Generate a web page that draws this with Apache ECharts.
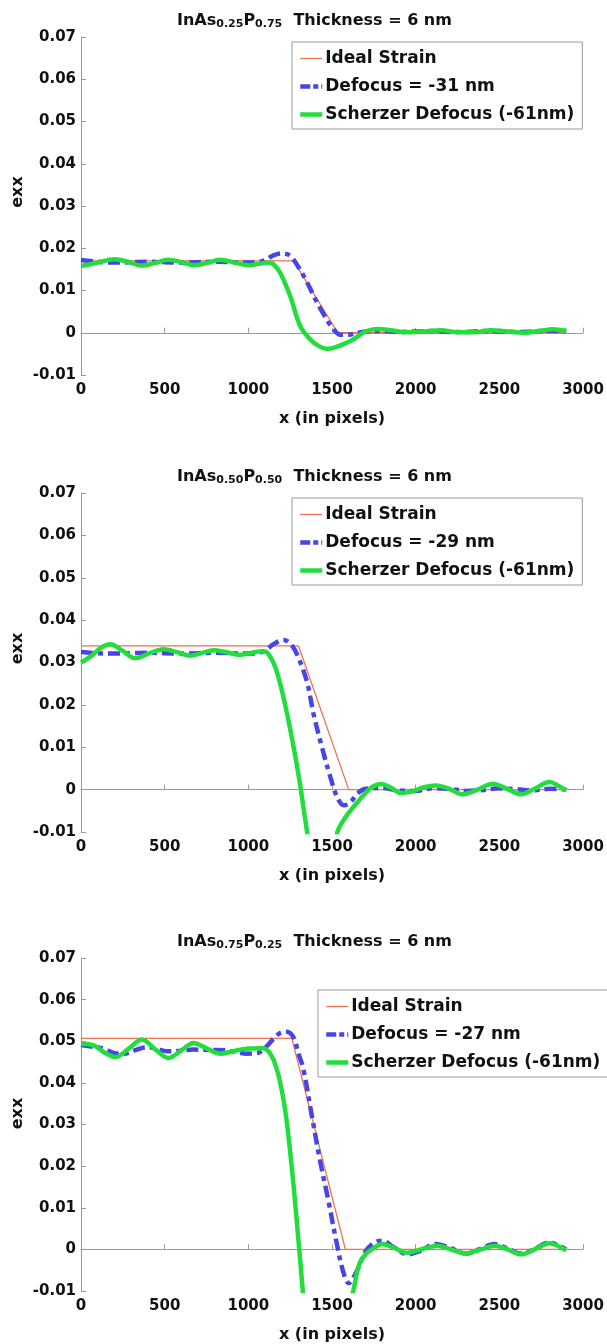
<!DOCTYPE html>
<html>
<head>
<meta charset="utf-8">
<script src="https://cdn.jsdelivr.net/npm/echarts@6/dist/echarts.min.js"></script>
<style>html,body{margin:0;padding:0;background:#fff;}#c{width:607px;height:1344px;}</style>
</head>
<body>
<div id="c"></div>
<script>
// ---- data ----
const xTicks = [0, 500, 1000, 1500, 2000, 2500, 3000];
const yTicks = [-0.01, 0, 0.01, 0.02, 0.03, 0.04, 0.05, 0.06, 0.07];

const titles = [
  ['0.25', '0.75'],
  ['0.50', '0.50'],
  ['0.75', '0.25']
];
const defocusNames = ['Defocus = -31 nm', 'Defocus = -29 nm', 'Defocus = -27 nm'];

const ideal1 = [[0,0.017],[1270,0.017],[1535,0],[2900,0]];
const defocus1 = [[0,0.0172],[100,0.0168],[200,0.0166],[300,0.0167],[400,0.0168],[500,0.0167],[600,0.0166],[700,0.0167],[800,0.0168],[900,0.0167],[1000,0.0166],[1050,0.0167],[1100,0.0172],[1150,0.0183],[1200,0.0188],[1250,0.0182],[1300,0.0155],[1350,0.012],[1400,0.008],[1450,0.0044],[1500,0.0013],[1550,-0.0005],[1600,-0.0005],[1650,0.0000],[1700,0.0003],[1800,0.0004],[1900,0.0002],[2000,0.0003],[2100,0.0004],[2200,0.0002],[2300,0.0002],[2400,0.0004],[2500,0.0003],[2600,0.0002],[2700,0.0003],[2800,0.0005],[2900,0.0004]];
const scherzer1 = [[0,0.0158],[100,0.0166],[200,0.0174],[280,0.0168],[360,0.0159],[440,0.0165],[520,0.0173],[600,0.0167],[680,0.016],[760,0.0166],[830,0.0173],[920,0.0166],[1000,0.016],[1060,0.0163],[1120,0.0166],[1150,0.0162],[1190,0.0142],[1250,0.0087],[1310,0.0016],[1370,-0.0016],[1420,-0.0031],[1470,-0.0038],[1530,-0.0033],[1580,-0.0025],[1630,-0.0015],[1700,0.0003],[1770,0.0009],[1850,0.0006],[1950,0.0001],[2050,0.0003],[2150,0.0006],[2250,0.0001],[2350,0.0001],[2450,0.0006],[2550,0.0003],[2650,0.0000],[2750,0.0005],[2820,0.0008],[2900,0.0004]];

const ideal2 = [[0,0.0339],[1300,0.0339],[1600,0],[2900,0]];
const defocus2 = [[0,0.0325],[100,0.0322],[200,0.0321],[300,0.0322],[400,0.0323],[500,0.0322],[600,0.0321],[700,0.0322],[800,0.0323],[900,0.0322],[1000,0.0321],[1050,0.0322],[1100,0.0328],[1150,0.0343],[1210,0.0353],[1250,0.0345],[1290,0.032],[1350,0.0255],[1390,0.0178],[1440,0.0100],[1490,0.003],[1530,-0.0017],[1570,-0.0037],[1610,-0.003],[1650,-0.001],[1700,0.0002],[1800,0.0004],[1900,-0.0002],[2000,-0.0003],[2100,0.0003],[2200,0.0002],[2300,-0.0003],[2400,-0.0001],[2500,0.0003],[2600,0.0001],[2700,-0.0002],[2800,0.0002],[2900,0]];
const scherzer2 = [[0,0.0300],[60,0.0315],[120,0.0335],[175,0.0343],[250,0.0327],[324,0.0310],[410,0.0322],[493,0.0331],[570,0.0325],[652,0.0316],[720,0.0322],[792,0.0329],[870,0.0324],[950,0.0318],[1010,0.0322],[1070,0.0326],[1100,0.0326],[1130,0.0314],[1160,0.0290],[1190,0.0250],[1220,0.0200],[1250,0.0143],[1280,0.0080],[1310,0.0010],[1340,-0.0070],[1380,-0.016],[1440,-0.02],[1500,-0.015],[1537,-0.0095],[1590,-0.006],[1645,-0.0033],[1700,-0.0008],[1740,0.0006],[1795,0.0013],[1850,0.0005],[1910,-0.0008],[1980,-0.0004],[2050,0.0006],[2120,0.0010],[2200,0.0002],[2280,-0.0011],[2370,0.0000],[2460,0.0014],[2540,0.0003],[2630,-0.0011],[2710,0.0002],[2800,0.0018],[2850,0.0010],[2900,-0.0002]];

const ideal3 = [[0,0.0507],[1260,0.0507],[1580,0],[2900,0]];
const defocus3 = [[0,0.0491],[70,0.0487],[135,0.0482],[195,0.0472],[254,0.0470],[320,0.0478],[393,0.0486],[450,0.0482],[513,0.0476],[590,0.0477],[672,0.048],[770,0.0479],[871,0.0478],[930,0.0474],[990,0.047],[1040,0.0471],[1070,0.0474],[1110,0.0488],[1150,0.0506],[1190,0.052],[1229,0.0523],[1269,0.051],[1300,0.047],[1328,0.0435],[1378,0.0324],[1428,0.0214],[1477,0.012],[1527,0.0017],[1567,-0.0054],[1600,-0.0081],[1646,-0.0054],[1700,-0.0005],[1750,0.0015],[1800,0.0021],[1870,0.0005],[1950,-0.0012],[2030,-0.0003],[2120,0.0013],[2210,0.0003],[2300,-0.001],[2390,0.0002],[2470,0.0013],[2550,0.0002],[2630,-0.001],[2720,0.0003],[2800,0.0017],[2850,0.001],[2900,0]];
const scherzer3 = [[0,0.0494],[76,0.049],[140,0.0473],[205,0.0462],[285,0.0482],[364,0.0504],[445,0.048],[523,0.046],[600,0.0478],[672,0.0496],[750,0.0483],[831,0.047],[910,0.0476],[990,0.0482],[1090,0.0483],[1120,0.0476],[1150,0.0456],[1170,0.0433],[1189,0.0403],[1210,0.0360],[1229,0.0309],[1249,0.0238],[1269,0.0159],[1289,0.0070],[1309,-0.0022],[1340,-0.015],[1400,-0.026],[1470,-0.03],[1550,-0.022],[1627,-0.01],[1662,-0.0037],[1700,-0.0012],[1731,-0.0002],[1800,0.0013],[1870,0.0004],[1950,-0.0008],[2040,0.0001],[2130,0.0009],[2210,0.0000],[2300,-0.001],[2390,0.0000],[2470,0.0009],[2550,0.0000],[2630,-0.0012],[2720,0.0002],[2800,0.0015],[2850,0.0008],[2900,-0.0002]];

const idealSets = [ideal1, ideal2, ideal3];
const defocusSets = [defocus1, defocus2, defocus3];
const scherzerSets = [scherzer1, scherzer2, scherzer3];

// ---- layout ----
const FONT = 'DejaVu Sans';
const gridTops = [37, 493, 958];
const gridH = [338, 339, 339];
const legendPos = [[292, 42], [292, 498], [318, 990]];
const COL_IDEAL = '#f0714e', COL_DEF = '#4646e6', COL_SCH = '#22dd3c';
const DEF_DASH = [12, 5, 5, 5];

const chart = echarts.init(document.getElementById('c'), null, {renderer: 'canvas'});

const grid = [], xAxis = [], yAxis = [], series = [], legend = [], title = [], graphic = [];
for (let i = 0; i < 3; i++) {
  grid.push({left: 81, width: 502, top: gridTops[i], height: gridH[i]});
  xAxis.push({
    type: 'value', gridIndex: i, min: xTicks[0], max: xTicks[xTicks.length - 1], interval: 500,
    name: 'x (in pixels)', nameLocation: 'middle', nameGap: 36,
    nameTextStyle: {fontFamily: FONT, fontWeight: 'bold', fontSize: 16, color: '#111'},
    axisLine: {show: true, lineStyle: {color: '#9a9a9a', width: 1}},
    axisTick: {show: true, inside: true, length: 5, lineStyle: {color: '#9a9a9a'}},
    axisLabel: {fontFamily: FONT, fontWeight: 'bold', fontSize: 15, color: '#111', margin: 8,
      formatter: v => String(Math.round(v))},
    splitLine: {show: false}
  });
  yAxis.push({
    type: 'value', gridIndex: i, min: yTicks[0], max: yTicks[yTicks.length - 1], interval: 0.01,
    axisLine: {show: true, lineStyle: {color: '#9a9a9a', width: 1}},
    axisTick: {show: true, inside: true, length: 5, lineStyle: {color: '#9a9a9a'}},
    axisLabel: {fontFamily: FONT, fontWeight: 'bold', fontSize: 15, color: '#111', margin: 5,
      formatter: v => Math.abs(v) < 1e-9 ? '0' : (Math.round(v * 100) / 100).toFixed(2)},
    splitLine: {show: false}
  });
  series.push({
    name: 'Ideal Strain', type: 'line', xAxisIndex: i, yAxisIndex: i, data: idealSets[i],
    showSymbol: false, symbol: 'none', lineStyle: {color: COL_IDEAL, width: 1.3}, itemStyle: {color: COL_IDEAL},
    clip: true, z: 2
  });
  series.push({
    name: defocusNames[i], type: 'line', xAxisIndex: i, yAxisIndex: i, data: defocusSets[i],
    showSymbol: false, symbol: 'none', smooth: 0.35,
    lineStyle: {color: COL_DEF, width: 4.5, type: DEF_DASH}, itemStyle: {color: COL_DEF},
    clip: true, z: 3
  });
  series.push({
    name: 'Scherzer Defocus (-61nm)', type: 'line', xAxisIndex: i, yAxisIndex: i, data: scherzerSets[i],
    showSymbol: false, symbol: 'none', smooth: 0.35,
    lineStyle: {color: COL_SCH, width: 4.5}, itemStyle: {color: COL_SCH},
    clip: true, z: 4
  });
  legend.push({
    left: legendPos[i][0], top: legendPos[i][1], orient: 'vertical',
    data: [
      {name: 'Ideal Strain', lineStyle: {color: COL_IDEAL, width: 1.3}},
      {name: defocusNames[i], lineStyle: {color: COL_DEF, width: 4.5, type: [10, 3, 5, 3]}},
      {name: 'Scherzer Defocus (-61nm)', lineStyle: {color: COL_SCH, width: 4.5}}
    ],
    itemWidth: 22, itemHeight: 14, itemGap: 11,
    padding: [8, 8, 6, 6],
    backgroundColor: '#fff', borderColor: '#9a9a9a', borderWidth: 1, borderRadius: 0,
    selectedMode: false,
    itemStyle: {color: 'rgba(0,0,0,0)', borderColor: 'rgba(0,0,0,0)', borderWidth: 0, opacity: 0},
    textStyle: {fontFamily: FONT, fontWeight: 'bold', fontSize: 17, color: '#111', padding: [0, 0, 0, -2]}
  });
  title.push({
    left: 172, top: gridTops[i] - 31,
    text: '{b|InAs}{s|' + titles[i][0] + '}{b|P}{s|' + titles[i][1] + '}{b|  Thickness = 6 nm}',
    textStyle: {
      rich: {
        b: {fontFamily: FONT, fontWeight: 'bold', fontSize: 16, color: '#111'},
        s: {fontFamily: FONT, fontWeight: 'bold', fontSize: 11, color: '#111', padding: [8, 0, 0, 0]}
      }
    }
  });
  graphic.push({
    type: 'text', x: 18, y: gridTops[i] + gridH[i] / 2 - 14, rotation: Math.PI / 2,
    style: {text: 'exx', fontFamily: FONT, fontWeight: 'bold', fontSize: 16, fill: '#111',
      align: 'center', verticalAlign: 'middle'}
  });
}

chart.setOption({
  animation: false,
  backgroundColor: '#fff',
  title, grid, xAxis, yAxis, series, legend, graphic
});
</script>
</body>
</html>
